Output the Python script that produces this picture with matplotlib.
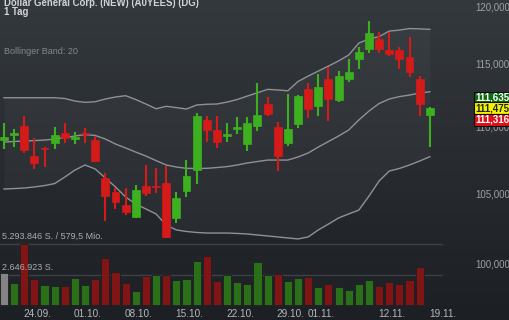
import numpy as np
import matplotlib
matplotlib.use("Agg")
import matplotlib.pyplot as plt
from matplotlib.colors import LinearSegmentedColormap
from matplotlib.ticker import NullLocator

plt.rcParams["font.family"] = ["Liberation Sans", "DejaVu Sans"]

# daily candles 19.09. - 18.11. (index 0..42)
opens = [109.00, 109.41, 110.07, 107.81, 108.38, 108.75, 109.51, 109.08, 109.51, 109.00,
         106.13, 105.10, 104.17, 103.28, 105.56, 105.56, 105.76, 103.20, 105.19, 106.74,
         110.54, 109.77, 109.33, 109.87, 108.68, 110.10, 111.75, 110.02, 108.80, 110.23,
         112.95, 111.62, 113.72, 112.09, 113.72, 115.37, 116.18, 116.97, 116.10, 116.07,
         115.53, 113.72, 110.92]
highs = [110.33, 109.82, 110.87, 109.13, 108.50, 109.97, 110.28, 109.59, 109.94, 109.33,
         106.50, 105.39, 105.39, 105.63, 107.12, 106.87, 107.04, 105.12, 107.49, 111.10,
         110.84, 110.84, 110.33, 110.74, 110.74, 113.45, 112.30, 110.40, 112.56, 112.48,
         113.45, 114.14, 114.68, 114.41, 115.32, 116.34, 118.47, 117.52, 117.52, 116.34,
         117.11, 113.98, 111.52]
lows = [108.30, 108.50, 108.00, 106.82, 106.99, 108.30, 108.80, 108.70, 108.75, 107.36,
        103.03, 103.85, 103.44, 103.25, 104.84, 105.02, 101.77, 102.84, 104.73, 105.71,
        108.87, 108.38, 108.83, 109.46, 108.17, 109.71, 110.84, 106.69, 108.55, 109.90,
        110.71, 110.84, 110.46, 111.91, 113.48, 114.52, 115.81, 115.81, 115.59, 114.52,
        113.93, 110.84, 108.45]
closes = [109.21, 109.51, 108.24, 107.25, 108.30, 109.41, 109.17, 109.22, 109.46, 107.42,
          104.84, 104.38, 103.64, 105.26, 105.07, 105.49, 101.88, 104.65, 106.30, 110.87,
          109.77, 108.87, 109.46, 110.02, 110.28, 110.92, 111.00, 107.79, 109.82, 112.40,
          111.37, 113.09, 112.14, 114.01, 114.30, 115.89, 117.48, 116.13, 115.72, 115.37,
          114.28, 111.75, 111.48]

# Bollinger Band (20)
bb_upper = [112.27, 112.27, 112.27, 112.27, 112.27, 112.27, 112.21, 112.01, 111.91, 111.96,
            112.17, 112.33, 112.43, 112.13, 111.78, 111.41, 111.60, 111.50, 111.39, 111.70,
            111.76, 111.78, 111.93, 112.13, 112.40, 112.66, 112.93, 112.88, 112.82, 113.55,
            113.98, 114.38, 114.78, 115.19, 115.67, 116.64, 116.97, 117.17, 117.62, 117.70,
            117.83, 117.80, 117.76]
bb_mid = [108.85, 108.89, 108.93, 108.96, 109.00, 109.08, 109.19, 109.31, 109.42, 109.35,
          109.08, 108.70, 108.40, 108.09, 107.79, 107.45, 107.12, 106.97, 106.87, 106.86,
          106.87, 106.93, 107.00, 107.12, 107.27, 107.38, 107.49, 107.49, 107.49, 107.72,
          108.02, 108.47, 108.89, 109.31, 109.77, 110.54, 111.23, 111.82, 112.17, 112.36,
          112.48, 112.64, 112.74]
bb_lower = [105.34, 105.37, 105.41, 105.49, 105.59, 105.74, 106.22, 106.74, 107.12, 106.82,
            106.15, 105.49, 104.75, 104.24, 103.88, 103.52, 102.72, 102.37, 102.26, 102.19,
            102.15, 102.15, 102.15, 102.12, 102.08, 102.01, 101.94, 101.87, 101.80, 101.73,
            101.87, 102.37, 102.79, 103.23, 103.52, 103.80, 104.82, 105.93, 106.67, 106.86,
            107.12, 107.42, 107.74]

# volume in million shares (index 0..41)
volume_mio = [2.75, 1.88, 5.29, 2.23, 1.74, 1.65, 1.65, 2.32, 1.74, 2.28,
              4.05, 2.86, 1.88, 1.22, 2.54, 2.58, 2.58, 2.17, 2.28, 3.82,
              4.28, 2.08, 2.63, 2.00, 1.80, 3.70, 2.60, 2.69, 2.11, 2.37,
              2.43, 1.56, 1.80, 1.59, 1.30, 1.80, 2.17, 1.65, 1.97, 1.80,
              2.20, 3.30]
vol_max = 5.293846

date_pos = [3, 8, 13, 18, 23, 28, 31, 38, 43]
date_labels = ["24.09.", "01.10.", "08.10.", "15.10.", "22.10.", "29.10.", "01.11.", "12.11.", "19.11."]
price_ticks = [100, 105, 110, 115, 120]
quote_labels = ["111,635", "111,475", "111,316"]

W, H = 510, 320
GREEN, RED = "#3cb01e", "#d51a1a"
VGREEN, VRED, VGRAY = "#2c7518", "#871414", "#8a8a8a"
BAND = "#8e9296"

fig = plt.figure(figsize=(W / 100, H / 100), dpi=100)

# background gradient
bg = fig.add_axes([0, 0, 1, 1])
cmap = LinearSegmentedColormap.from_list("bg", ["#34393d", "#1c1f23"])
bg.imshow(np.linspace(0, 1, 256).reshape(-1, 1), aspect="auto", cmap=cmap,
          extent=[0, 1, 0, 1])
bg.axis("off")

rect = [0, 12 / H, 443 / W, 308 / H]
ax = fig.add_axes(rect)
ax.patch.set_alpha(0)
ax.set_yscale("log")
ax.set_ylim(96.94, 120.2)
ax.set_xlim(-0.39, 42.5)

idx = np.arange(len(closes))
o, h, l, c = map(np.array, (opens, highs, lows, closes))

ax.fill_between(idx, bb_lower, bb_upper, color="white", alpha=0.03, lw=0)
for band in (bb_upper, bb_mid, bb_lower):
    ax.plot(idx, band, color=BAND, lw=1.0, zorder=2)

cols = np.where(c >= o, GREEN, RED)
ax.vlines(idx, l, h, colors=cols, lw=1.5, zorder=3)
ax.bar(idx, np.maximum(np.abs(c - o), 0.09), bottom=np.minimum(o, c), width=0.78,
       color=cols, edgecolor=cols, lw=0.5, zorder=4)

ax.yaxis.tick_right()
ax.set_yticks(price_ticks, [f"{p},000" for p in price_ticks])
ax.yaxis.set_minor_locator(NullLocator())
ax.tick_params(axis="y", length=0, pad=23, labelsize=7, labelcolor="#9ca1a6")
ax.set_xticks([p + 0.3 for p in date_pos], date_labels)
ax.tick_params(axis="x", length=0, pad=1, labelsize=7.2, labelcolor="#b4b8bc")
for s in ax.spines.values():
    s.set_visible(False)
# keep the top label inside the picture
ax.get_yticklabels()[-1].set_va("top")

# volume
vax = fig.add_axes(rect)
vax.patch.set_alpha(0)
vax.set_xlim(ax.get_xlim())
vax.set_ylim(-0.26, 26.47)
vax.axis("off")
vol = np.array(volume_mio)
vcols = [VGRAY] + [VGREEN if closes[i] >= closes[i - 1] else VRED for i in range(1, len(vol))]
vax.bar(np.arange(len(vol)), vol, width=0.8, color=vcols, edgecolor="#1c1f22", lw=0.6, alpha=0.95)
for lv in (vol_max, vol_max / 2):
    vax.axhline(lv, color="#3d4246", lw=1, zorder=0)
vax.text(0.2 / 42.9, vol_max + 0.25, "5.293.846 S. / 579,5 Mio.", transform=vax.get_yaxis_transform(),
         fontsize=6.5, color="#a9adb1", va="bottom")
vax.text(0.2 / 42.9, vol_max / 2 + 0.25, "2.646.923 S.", transform=vax.get_yaxis_transform(),
         fontsize=6.5, color="#a9adb1", va="bottom")

fig.text(4 / W, 1 - 3.5 / H, "Dollar General Corp. (NEW) (A0YEES) (DG)", fontsize=6.9,
         fontweight="bold", color="#d2d5d8", va="center")
fig.text(4 / W, 1 - 12 / H, "1 Tag", fontsize=6.9, fontweight="bold", color="#d2d5d8", va="center")
fig.text(4 / W, 1 - 51.5 / H, "Bollinger Band: 20", fontsize=6.5, color="#80878d", va="center")

# quote boxes
box_y = [97.5, 108.3, 119.6]
box_fc = ["#0e6a12", "#f3f300", "#e0101a"]
box_tc = ["white", "#222222", "white"]
for lab, yy, fc, tc in zip(quote_labels, box_y, box_fc, box_tc):
    fig.text(475 / W, 1 - yy / H, lab, fontsize=7, fontweight="bold", color=tc, va="center",
             bbox=dict(boxstyle="square,pad=0.1", fc=fc, ec="#0c0c0c", lw=0.8))

fig.savefig("out.png", dpi=100)
